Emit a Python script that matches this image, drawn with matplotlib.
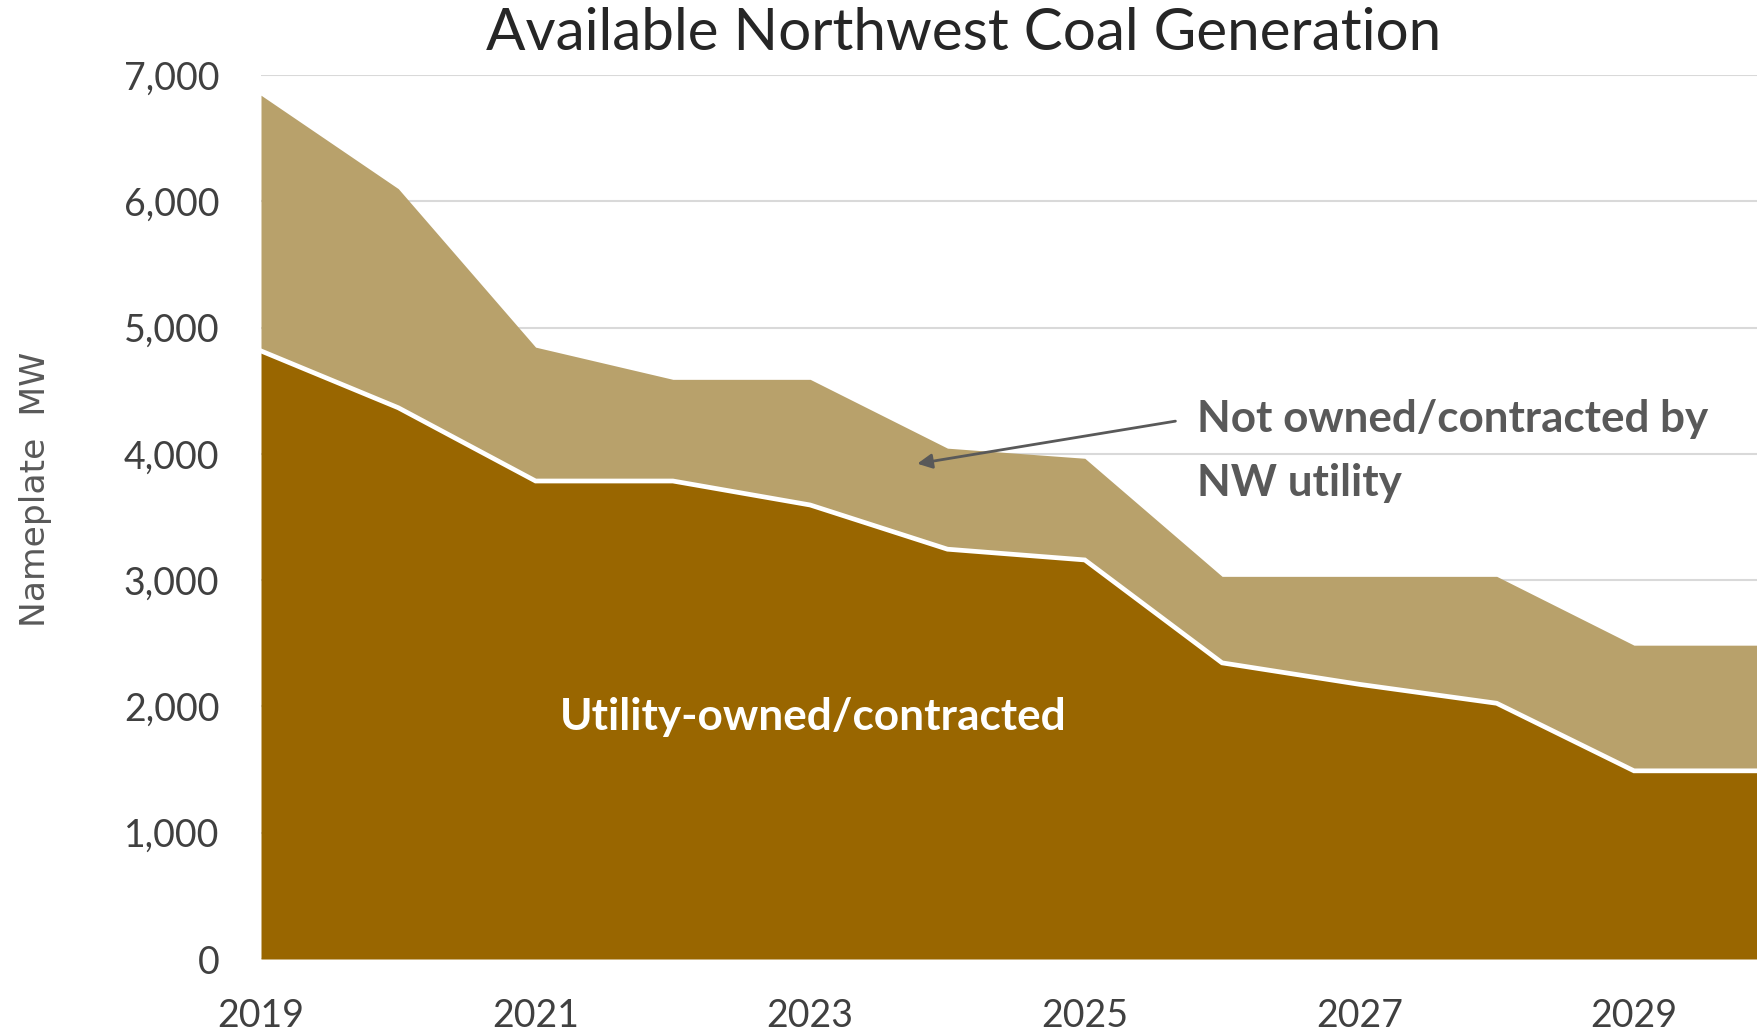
import matplotlib.pyplot as plt
import numpy as np

# data (MW)
years = [2019, 2020, 2021, 2022, 2023, 2024, 2025, 2026, 2027, 2028, 2029, 2030]
total_mw = [6840, 6100, 4845, 4590, 4590, 4045, 3965, 3030, 3030, 3030, 2485, 2485]
utility_mw = [4815, 4365, 3785, 3785, 3595, 3245, 3160, 2345, 2175, 2025, 1490, 1490]
x_ticks = [2019, 2021, 2023, 2025, 2027, 2029]
y_ticks = [0, 1000, 2000, 3000, 4000, 5000, 6000, 7000]

dark_brown = '#996600'
tan = '#b8a16b'
txt_gray = '#595959'

plt.rcParams['font.family'] = ['Lato', 'DejaVu Sans']

fig = plt.figure(figsize=(17.57, 10.31), dpi=100)
ax = fig.add_axes([261 / 1757, 72 / 1031, 1 - 261 / 1757, (959 - 75) / 1031])

x = np.array(years)
tot = np.array(total_mw)
util = np.array(utility_mw)

# gridlines behind the areas
for v in y_ticks[1:]:
    ax.axhline(v, color='#d9d9d9', lw=1.5, zorder=0)
ax.axhline(0, color='#d9d9d9', lw=2, zorder=0)

ax.fill_between(x, util, tot, color=tan, lw=0, zorder=1)
ax.fill_between(x, 0, util, color=dark_brown, lw=0, zorder=2)
ax.plot(x, util, color='white', lw=3.4, zorder=3, solid_joinstyle='miter')

ax.set_xlim(2019, 2019 + (1757 - 261) / 137.3)
ax.set_ylim(0, 7000)
ax.set_xticks(x_ticks)
ax.set_yticks(y_ticks)
ax.set_yticklabels([f'{v:,}' for v in y_ticks])
ax.tick_params(length=0, labelsize=27, labelcolor='#404040', pad=30)
ax.tick_params(axis='x', pad=28)
for s in ax.spines.values():
    s.set_visible(False)

fig.text(0.5 + 0.0487, 1 - 34 / 1031, 'Available Northwest Coal Generation',
         ha='center', va='center', fontsize=42, color='#262626')
fig.text(36 / 1757, 1 - 489 / 1031, 'Nameplate  MW', rotation=90,
         ha='center', va='center', fontsize=24.8, color=txt_gray,
         family=['DejaVu Sans'])

ax.text(2023.02, 1917, 'Utility-owned/contracted', ha='center', va='center',
        fontsize=31.8, fontweight='bold', color='white', zorder=5)
ax.text(2025.82, 4020, 'Not owned/contracted by\nNW utility', ha='left', va='center',
        fontsize=31.7, fontweight='bold', color=txt_gray, linespacing=1.72, zorder=5)
ax.annotate('', xy=(2023.78, 3922), xytext=(2025.66, 4259),
            arrowprops=dict(arrowstyle='-|>', color=txt_gray, lw=2,
                            mutation_scale=22, shrinkA=0, shrinkB=0), zorder=5)

fig.savefig('out.png', dpi=100)
